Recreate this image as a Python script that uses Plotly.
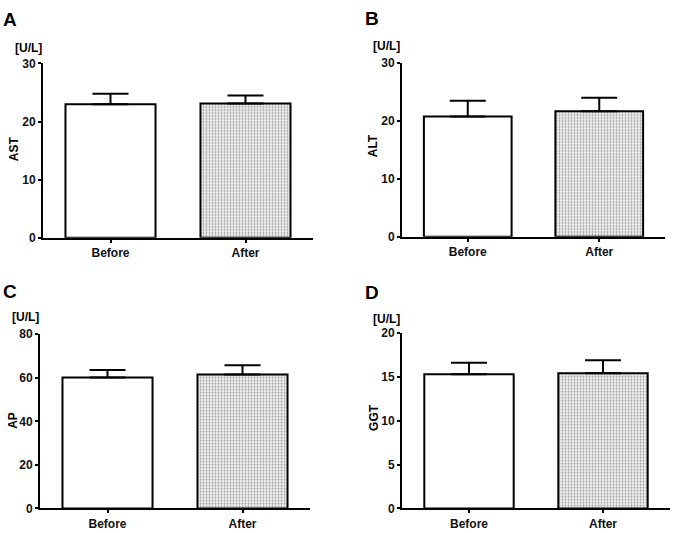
import plotly.graph_objects as go

W, H = 675, 533

categories = ["Before", "After"]
panel_letters = ["A", "B", "C", "D"]
analytes = ["AST", "ALT", "AP", "GGT"]
unit_label = "[U/L]"

ast_mean = [23.0, 23.1]
ast_sd = [1.8, 1.4]
alt_mean = [20.7, 21.6]
alt_sd = [2.7, 2.35]
ap_mean = [60.1, 61.5]
ap_sd = [3.4, 4.2]
ggt_mean = [15.33, 15.44]
ggt_sd = [1.3, 1.46]

y_max = [30, 30, 80, 20]
y_ticks = [[0, 10, 20, 30], [0, 10, 20, 30], [0, 20, 40, 60, 80], [0, 5, 10, 15, 20]]

means = [ast_mean, alt_mean, ap_mean, ggt_mean]
sds = [ast_sd, alt_sd, ap_sd, ggt_sd]

# pixel boxes of each plot area: (left, right, top, bottom)
boxes = [(43, 313, 58, 237), (402, 665, 57, 236), (40, 310, 336, 515), (402, 670, 335, 515)]
letter_pos = [(10, 13), (372, 12), (10, 292), (372, 293)]
unit_pos = [(28, 42), (386, 40), (25, 318), (386, 320)]
title_pos = [(14, 146), (373, 143), (13, 425), (374, 422)]

FONT = "Liberation Sans, Arial, sans-serif"

fig = go.Figure()
layout = dict(
    width=W, height=H, margin=dict(l=0, r=0, t=0, b=0),
    paper_bgcolor="white", plot_bgcolor="white", showlegend=False,
    font=dict(family=FONT, size=12, color="black"),
)
annotations = []

for i in range(4):
    sfx = "" if i == 0 else str(i + 1)
    xa, ya = "x" + sfx, "y" + sfx
    l, r, t, b = boxes[i]
    xdom = [l / W, r / W]
    ydom = [1 - b / H, 1 - t / H]
    fig.add_trace(go.Bar(
        x=[0, 1], y=means[i], width=0.667, xaxis=xa, yaxis=ya,
        marker=dict(
            color=["white", "#f0f0f0"],
            line=dict(color="black", width=2),
            pattern=dict(shape=["", "."], fgcolor="#cbcbcb", bgcolor="#f5f5f5",
                         size=3, solidity=0.3),
        ),
        error_y=dict(type="data", symmetric=False, array=sds[i], arrayminus=[0, 0],
                     color="black", thickness=2, width=18),
    ))
    layout["xaxis" + sfx] = dict(
        domain=xdom, anchor=ya, range=[-0.5, 1.5], tickvals=[0, 1], ticktext=categories,
        showline=True, linecolor="black", linewidth=2, ticks="outside", ticklen=3,
        tickwidth=1.5, tickcolor="black", showgrid=False, zeroline=False,
        tickfont=dict(family=FONT, size=12, color="#111", weight="bold"),
    )
    layout["yaxis" + sfx] = dict(
        domain=ydom, anchor=xa, range=[0, y_max[i]], tickvals=y_ticks[i],
        showline=True, linecolor="black", linewidth=2, ticks="outside", ticklen=3,
        tickwidth=1.5, tickcolor="black", showgrid=False, zeroline=False,
        tickfont=dict(family=FONT, size=12, color="#111", weight="bold"),
    )
    lx, ly = letter_pos[i]
    annotations.append(dict(x=lx / W, y=1 - ly / H, xref="paper", yref="paper",
                            text="<b>%s</b>" % panel_letters[i], showarrow=False,
                            font=dict(family=FONT, size=19), xanchor="center", yanchor="middle"))
    ux, uy = unit_pos[i]
    annotations.append(dict(x=ux / W, y=1 - uy / H, xref="paper", yref="paper",
                            text="<b>%s</b>" % unit_label, showarrow=False,
                            font=dict(family=FONT, size=12), xanchor="center", yanchor="middle"))
    tx, ty = title_pos[i]
    annotations.append(dict(x=tx / W, y=1 - ty / H, xref="paper", yref="paper",
                            text="<b>%s</b>" % analytes[i], showarrow=False, textangle=-90,
                            font=dict(family=FONT, size=12), xanchor="center", yanchor="middle"))

layout["annotations"] = annotations
fig.update_layout(**layout)
fig.write_html("out.html", post_script="document.body.style.margin='0px';",
               config={"displayModeBar": False})
